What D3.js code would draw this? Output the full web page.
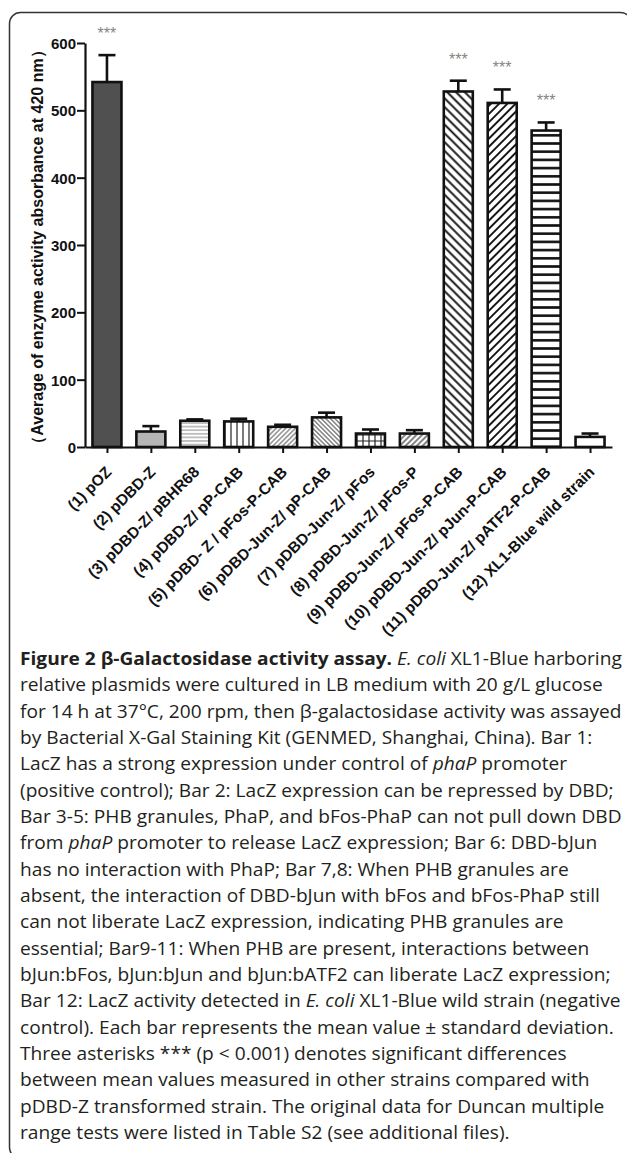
<!DOCTYPE html>
<html>
<head>
<meta charset="utf-8">
<script src="https://cdn.jsdelivr.net/npm/d3@7"></script>
<style>
  html, body { margin: 0; padding: 0; background: #fff; }
  svg { display: block; }
</style>
</head>
<body>
<script>
// values
var strains = [
  '(1) pOZ', '(2) pDBD-Z', '(3) pDBD-Z/ pBHR68', '(4) pDBD-Z/ pP-CAB',
  '(5) pDBD- Z / pFos-P-CAB', '(6) pDBD-Jun-Z/ pP-CAB', '(7) pDBD-Jun-Z/ pFos',
  '(8) pDBD-Jun-Z/ pFos-P', '(9) pDBD-Jun-Z/ pFos-P-CAB', '(10) pDBD-Jun-Z/ pJun-P-CAB',
  '(11) pDBD-Jun-Z/ pATF2-P-CAB', '(12)  XL1-Blue wild strain'
];
var means = [542, 23, 39, 38, 30, 44, 20, 20, 528, 511, 470, 15];
var sds = [40, 8, 2, 4, 3, 7, 6, 5, 16, 20, 12, 5];
var stars = ['***', '', '', '', '', '', '', '', '***', '***', '***', ''];
var yTicks = [0, 100, 200, 300, 400, 500, 600];
var yTitle = '\uFF08Average of enzyme activity absorbance at 420 nm\uFF09';

// caption, one entry per printed line; b = bold, i = italic
var caption = [
  [['b', 'Figure 2 \u03B2-Galactosidase activity assay.'], ['', ' '], ['i', 'E. coli'], ['', ' XL1-Blue harboring']],
  [['', 'relative plasmids were cultured in LB medium with 20 g/L glucose']],
  [['', 'for 14 h at 37\u00B0C, 200 rpm, then \u03B2-galactosidase activity was assayed']],
  [['', 'by Bacterial X-Gal Staining Kit (GENMED, Shanghai, China). Bar 1:']],
  [['', 'LacZ has a strong expression under control of '], ['i', 'phaP'], ['', ' promoter']],
  [['', '(positive control); Bar 2: LacZ expression can be repressed by DBD;']],
  [['', 'Bar 3-5: PHB granules, PhaP, and bFos-PhaP can not pull down DBD']],
  [['', 'from '], ['i', 'phaP'], ['', ' promoter to release LacZ expression; Bar 6: DBD-bJun']],
  [['', 'has no interaction with PhaP; Bar 7,8: When PHB granules are']],
  [['', 'absent, the interaction of DBD-bJun with bFos and bFos-PhaP still']],
  [['', 'can not liberate LacZ expression, indicating PHB granules are']],
  [['', 'essential; Bar9-11: When PHB are present, interactions between']],
  [['', 'bJun:bFos, bJun:bJun and bJun:bATF2 can liberate LacZ expression;']],
  [['', 'Bar 12: LacZ activity detected in '], ['i', 'E. coli'], ['', ' XL1-Blue wild strain (negative']],
  [['', 'control). Each bar represents the mean value \u00B1 standard deviation.']],
  [['', 'Three asterisks *** (p < 0.001) denotes significant differences']],
  [['', 'between mean values measured in other strains compared with']],
  [['', 'pDBD-Z transformed strain. The original data for Duncan multiple']],
  [['', 'range tests were listed in Table S2 (see additional files).']]
];

var W = 627, H = 1153;
var FONT = '"Liberation Sans", Arial, Helvetica, sans-serif';

var svg = d3.select('body').append('svg')
  .attr('width', W)
  .attr('height', H);

svg.append('rect').attr('width', W).attr('height', H).attr('fill', '#fff');

// rounded frame, runs off the right and bottom edge
svg.append('rect')
  .attr('x', 9.5).attr('y', 12.5)
  .attr('width', 622).attr('height', 1146)
  .attr('rx', 11)
  .attr('fill', 'none')
  .attr('stroke', '#333')
  .attr('stroke-width', 1.5);

// hatch patterns
var defs = svg.append('defs');

function hatch(id, size, angle, color, width) {
  var p = defs.append('pattern')
    .attr('id', id)
    .attr('patternUnits', 'userSpaceOnUse')
    .attr('width', size).attr('height', size);
  if (angle) p.attr('patternTransform', 'rotate(' + angle + ')');
  p.append('rect').attr('width', size).attr('height', size).attr('fill', '#fff');
  p.append('line')
    .attr('x1', size / 2).attr('y1', -1)
    .attr('x2', size / 2).attr('y2', size + 1)
    .attr('stroke', color)
    .attr('stroke-width', width);
}

hatch('hz-thin', 3.6, 90, '#888', 1);
hatch('vt', 6, 0, '#333', 1.3);
hatch('fw-thin', 3.4, 45, '#555', 1);
hatch('bk-thin', 3.2, -45, '#444', 1);
hatch('fw-mid', 4, 45, '#666', 1.6);
hatch('bk-bold', 6.2, -45, '#111', 1.9);
hatch('fw-bold', 5.8, 45, '#111', 1.9);
hatch('hz-bold', 8.2, 90, '#111', 2.6);

var grid = defs.append('pattern')
  .attr('id', 'grid')
  .attr('patternUnits', 'userSpaceOnUse')
  .attr('width', 6).attr('height', 6);
grid.append('rect').attr('width', 6).attr('height', 6).attr('fill', '#fff');
grid.append('path')
  .attr('d', 'M3,0V6M0,3H6')
  .attr('stroke', '#222')
  .attr('stroke-width', 1.2);

var fills = ['#505050', '#b5b5b5', 'url(#hz-thin)', 'url(#vt)', 'url(#fw-thin)',
  'url(#bk-thin)', 'url(#grid)', 'url(#fw-mid)', 'url(#bk-bold)', 'url(#fw-bold)',
  'url(#hz-bold)', '#fff'];

// scales
var x = d3.scalePoint()
  .domain(strains)
  .range([85, 612])
  .padding(0.5);

var y = d3.scaleLinear()
  .domain([0, 600])
  .range([447, 43]);

var BAR_W = 29;
var CAP_W = 17;

var chart = svg.append('g');

// bars
chart.append('g').selectAll('rect')
    .data(strains)
  .enter().append('rect')
    .attr('x', function(d) { return x(d) - BAR_W / 2; })
    .attr('y', function(d, i) { return y(means[i]); })
    .attr('width', BAR_W)
    .attr('height', function(d, i) { return y(0) - y(means[i]); })
    .attr('fill', function(d, i) { return fills[i]; })
    .attr('stroke', '#111')
    .attr('stroke-width', 2.6);

// upper error whiskers
var err = chart.append('g')
  .attr('stroke', '#111')
  .attr('stroke-width', 2.6);

err.selectAll('line.stem')
    .data(strains)
  .enter().append('line')
    .attr('class', 'stem')
    .attr('x1', function(d) { return x(d); })
    .attr('x2', function(d) { return x(d); })
    .attr('y1', function(d, i) { return y(means[i]); })
    .attr('y2', function(d, i) { return y(means[i] + sds[i]); });

err.selectAll('line.cap')
    .data(strains)
  .enter().append('line')
    .attr('class', 'cap')
    .attr('x1', function(d) { return x(d) - CAP_W / 2; })
    .attr('x2', function(d) { return x(d) + CAP_W / 2; })
    .attr('y1', function(d, i) { return y(means[i] + sds[i]); })
    .attr('y2', function(d, i) { return y(means[i] + sds[i]); });

// significance marks
chart.append('g').selectAll('text')
    .data(strains)
  .enter().append('text')
    .attr('x', function(d) { return x(d); })
    .attr('y', function(d, i) { return y(means[i] + sds[i]) - 16; })
    .attr('text-anchor', 'middle')
    .attr('font-family', FONT)
    .attr('font-size', 16)
    .attr('fill', '#858585')
    .text(function(d, i) { return stars[i]; });

// axes
var yAxis = chart.append('g')
  .attr('transform', 'translate(85,0)')
  .call(d3.axisLeft(y).tickValues(yTicks).tickSize(8).tickSizeOuter(0).tickPadding(1));

var xAxis = chart.append('g')
  .attr('transform', 'translate(0,447)')
  .call(d3.axisBottom(x).tickSize(6).tickSizeOuter(0));

[yAxis, xAxis].forEach(function(a) {
  a.select('.domain').attr('stroke', '#111').attr('stroke-width', 2.2);
  a.selectAll('.tick line').attr('stroke', '#111').attr('stroke-width', 2);
  a.selectAll('text')
    .attr('font-family', FONT)
    .attr('font-weight', 'bold')
    .attr('fill', '#111');
});

yAxis.selectAll('text').attr('font-size', 15).attr('dy', '0.36em');

xAxis.selectAll('.tick text')
  .attr('font-size', 15.5)
  .attr('y', 0)
  .attr('dy', 0)
  .attr('text-anchor', 'end')
  .attr('transform', 'translate(5,26) rotate(-45)');

// y title
chart.append('text')
  .attr('transform', 'translate(37,247) rotate(-90)')
  .attr('text-anchor', 'middle')
  .attr('dominant-baseline', 'central')
  .attr('font-family', FONT)
  .attr('font-weight', 'bold')
  .attr('font-size', 16)
  .attr('fill', '#111')
  .text(yTitle);

// caption
var cap = svg.append('g')
  .attr('font-family', '"Open Sans", "Noto Sans", sans-serif')
  .attr('font-size', 18)
  .attr('fill', '#231f20');

var lines = cap.selectAll('text')
    .data(caption)
  .enter().append('text')
    .attr('x', 0)
    .attr('y', function(d, i) { return 665 + i * 26.33; });

lines.selectAll('tspan')
    .data(function(d) { return d; })
  .enter().append('tspan')
    .attr('font-weight', function(d) { return d[0] === 'b' ? 'bold' : null; })
    .attr('font-style', function(d) { return d[0] === 'i' ? 'italic' : null; })
    .text(function(d) { return d[1]; });

// squeeze the caption horizontally so the widest line fills the column
var widest = d3.max(lines.nodes(), function(n) { return n.getComputedTextLength(); });
cap.attr('transform', 'translate(20,0) scale(' + (602 / widest) + ',1)');
</script>
</body>
</html>
